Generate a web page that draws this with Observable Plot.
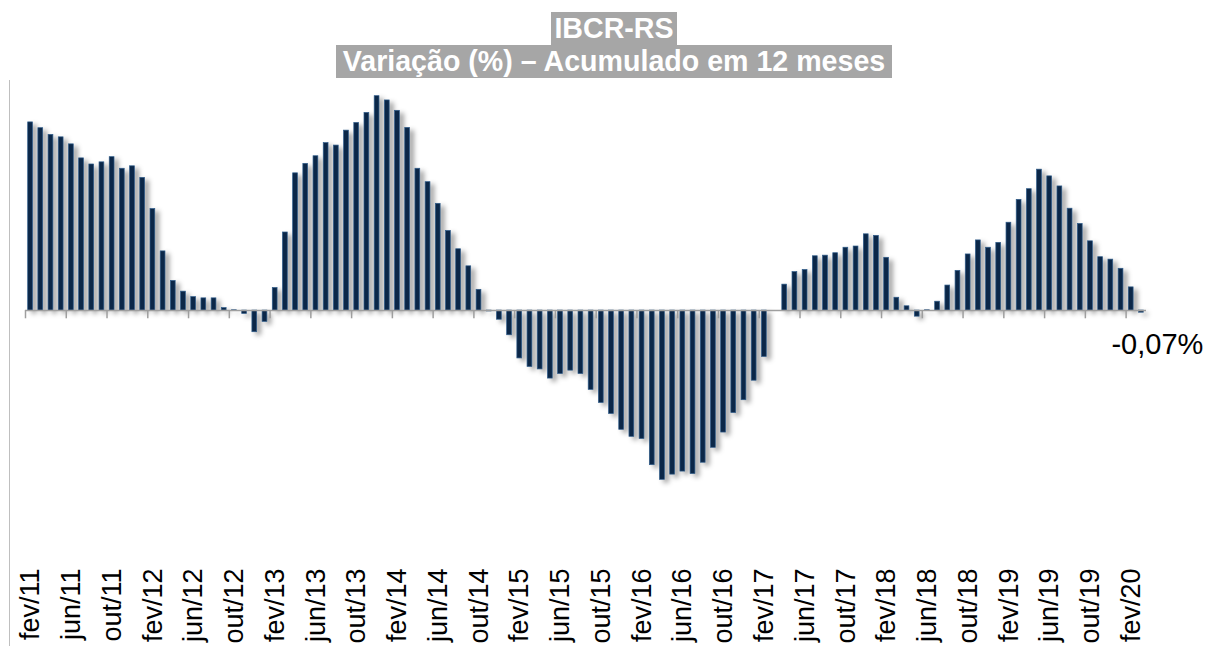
<!DOCTYPE html>
<html>
<head>
<meta charset="utf-8">
<script src="https://cdn.jsdelivr.net/npm/d3@7"></script>
<script src="https://cdn.jsdelivr.net/npm/@observablehq/plot@0.6"></script>
<style>
  html, body { margin: 0; padding: 0; background: #fff; width: 1208px; height: 646px; overflow: hidden; }
  body { position: relative; font-family: "Liberation Sans", Arial, sans-serif; }
  #title { position: relative; height: 80px; }
  .tl { position: absolute; left: 0; width: 1228px; text-align: center; }
  .tl span { background: #a6a6a6; color: #fff; font-weight: bold; font-size: 28.6px; line-height: 33px; display: inline-block; }
  #frame { position: absolute; left: 9px; top: 80px; width: 0; height: 566px; border-left: 1px solid #bfbfbf; }
  #chart svg g[aria-label="rect"] { filter: drop-shadow(4px 3px 2.5px rgba(0,0,0,0.38)); }
</style>
</head>
<body>
<div id="title">
  <div class="tl" style="top:12px"><span style="padding:0 3px">IBCR-RS</span></div>
  <div class="tl" style="top:45px"><span style="padding:0 7px">Variação (%) – Acumulado em 12 meses</span></div>
</div>
<div id="frame"></div>
<div id="chart"></div>
<script>
// Months (Portuguese abbreviations)
const monthNames = ["jan","fev","mar","abr","mai","jun","jul","ago","set","out","nov","dez"];

// IBCR-RS, variação % acumulada em 12 meses, fev/11 ... mar/20
const values2011 = [6.17, 5.98, 5.76, 5.68, 5.45, 4.99, 4.79, 4.86, 5.03, 4.65, 4.73]; // fev-dez
const values2012 = [4.35, 3.33, 1.94, 0.97, 0.62, 0.44, 0.40, 0.40, 0.08, 0.01, -0.11, -0.71];
const values2013 = [-0.37, 0.74, 2.56, 4.50, 4.81, 5.06, 5.49, 5.41, 5.90, 6.15, 6.48, 7.03];
const values2014 = [6.89, 6.55, 5.99, 4.65, 4.21, 3.50, 2.61, 2.01, 1.45, 0.68, -0.03, -0.30];
const values2015 = [-0.81, -1.57, -1.85, -1.93, -2.23, -2.08, -1.97, -2.08, -2.60, -3.03, -3.39, -3.91];
const values2016 = [-4.14, -4.21, -5.07, -5.55, -5.38, -5.28, -5.36, -4.99, -4.50, -4.00, -3.36, -2.94];
const values2017 = [-2.30, -1.52, 0.00, 0.85, 1.26, 1.33, 1.78, 1.80, 1.88, 2.06, 2.10, 2.50];
const values2018 = [2.45, 1.73, 0.42, 0.14, -0.20, 0.01, 0.29, 0.82, 1.30, 1.84, 2.30, 2.06];
const values2019 = [2.22, 2.88, 3.63, 3.98, 4.62, 4.40, 4.07, 3.34, 2.84, 2.27, 1.75, 1.67];
const values2020 = [1.37, 0.76, -0.07]; // jan-mar

// Axis tick labels (every 4 months)
const tickLabels = ["fev/11","jun/11","out/11","fev/12","jun/12","out/12","fev/13","jun/13","out/13",
  "fev/14","jun/14","out/14","fev/15","jun/15","out/15","fev/16","jun/16","out/16",
  "fev/17","jun/17","out/17","fev/18","jun/18","out/18","fev/19","jun/19","out/19","fev/20"];

const lastLabel = "-0,07%";

const values = [].concat(values2011, values2012, values2013, values2014, values2015,
  values2016, values2017, values2018, values2019, values2020);
const data = values.map((v, i) => {
  const m = (1 + i) % 12, y = 11 + Math.floor((1 + i) / 12);
  return {i, label: monthNames[m] + "/" + String(y).padStart(2, "0"), value: v};
});
const n = data.length;
const tickCenters = tickLabels.map((d, k) => k * 4 + 0.5);
const tickBounds = tickLabels.map((d, k) => k * 4);

const chart = Plot.plot({
  width: 1208,
  height: 566,
  marginLeft: 25,
  marginRight: 62,
  marginTop: 5,
  marginBottom: 81,
  style: {fontFamily: "'Liberation Sans', Arial, sans-serif", fontSize: "27px", color: "#000", background: "#fff", overflow: "visible"},
  x: {domain: [0, n], ticks: tickCenters, tickFormat: d => tickLabels[Math.round((d - 0.5) / 4)],
      tickRotate: -90, tickSize: 0, tickPadding: 3, label: null, line: false},
  y: {domain: [-8.36, 7.38], axis: null},
  marks: [
    Plot.rectY(data, {x1: d => d.i, x2: d => d.i + 1, y: "value", insetLeft: 2.7, insetRight: 2.7,
      fill: "#0b2748", stroke: "#2f5c8a", strokeWidth: 0.7}),
    Plot.ruleY([0], {x1: 0, x2: n, stroke: "#9e9e9e", strokeWidth: 1.5}),
    Plot.ruleX(tickBounds, {x: d => d, y1: 0, y2: -0.27, stroke: "#9e9e9e", strokeWidth: 1.5}),
    Plot.text([data[n - 1]], {x: d => d.i + 0.5, y: "value", text: () => lastLabel, dx: 16, dy: 32,
      fontSize: 29, textAnchor: "middle", lineAnchor: "middle", fill: "#000"})
  ]
});
document.getElementById("chart").appendChild(chart);
</script>
</body>
</html>
